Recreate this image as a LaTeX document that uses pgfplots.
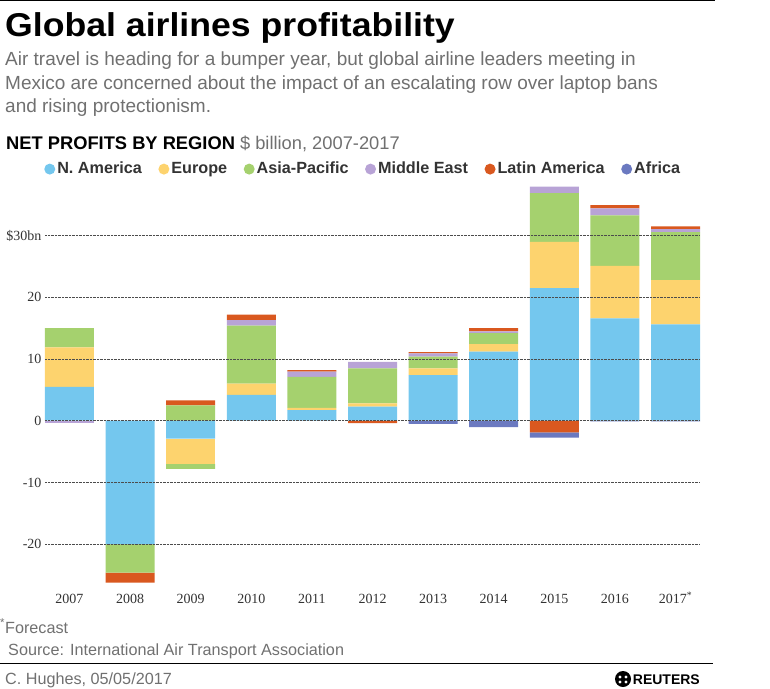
\documentclass[border=0pt]{standalone}
\usepackage{pgfplots}
\usepackage{pgfplotstable}
\pgfplotsset{compat=1.18}
\usepackage{fontspec}
\setmainfont{Liberation Sans}
\newfontfamily\numfont{Liberation Serif}
\newfontfamily\titlefont[FakeStretch=1.08]{Liberation Sans}

\definecolor{cNA}{HTML}{74C7EE}
\definecolor{cEU}{HTML}{FDD36E}
\definecolor{cAP}{HTML}{A5D16E}
\definecolor{cME}{HTML}{B8A3D6}
\definecolor{cLA}{HTML}{D9581F}
\definecolor{cAF}{HTML}{6B79C0}
\definecolor{greytxt}{HTML}{707070}
\definecolor{darktxt}{HTML}{333333}

\pgfplotstableread{
x NA EU AP ME LA AF
0 5.5 6.4 3.1 0 0 0
1 0 0 0 0 0 0
2 0 0 2.5 0 0.8 0
3 4.2 1.8 9.4 0.9 0.9 0
4 1.7 0.4 5.0 0.85 0.25 0
5 2.3 0.5 5.7 1.05 0 0
6 7.4 1.1 1.9 0.5 0.2 0
7 11.2 1.2 1.8 0.3 0.5 0
8 21.5 7.5 7.9 1.05 0 0
9 16.6 8.5 8.2 1.1 0.55 0
10 15.6 7.2 7.75 0.5 0.45 0
}\postable

\pgfplotstableread{
x NA EU AP ME LA AF
0 0 0 0 -0.4 0 0
1 -20 0 -4.6 0 -1.65 0
2 -2.9 -4.1 -0.8 0 0 0
3 0 0 0 0 0 0
4 0 0 0 0 0 0
5 0 0 0 0 -0.4 0
6 0 0 0 0 0 -0.5
7 0 0 0 0 0 -1.05
8 0 0 0 0 -1.9 -0.85
9 0 0 0 0 0 -0.1
10 0 0 0 0 0 -0.1
}\negtable

\pgfplotsset{
  basebars/.style={scale only axis, width=655pt, height=407.22pt,
    xmin=-0.404, xmax=10.404, ymin=-27, ymax=39,
    ybar stacked, bar width=49pt,
    axis line style={draw=none}, major tick length=0pt,
    at={(45pt,-587.3pt)}, anchor=south west, clip=false},
  circ legend/.style={legend image code/.code={\fill[##1] (0pt,0pt) circle (5.5pt);}},
}

\begin{document}
\begin{tikzpicture}
\path[use as bounding box] (0pt,0pt) rectangle (770pt,-688pt);
\draw[line width=1pt] (0pt,-0.5pt) -- (715pt,-0.5pt);
\node[anchor=base west, inner sep=0pt] at (5pt,-36pt)
  {\titlefont\bfseries\fontsize{33}{33}\selectfont Global airlines profitability};
\begin{scope}[every node/.style={anchor=base west, inner sep=0pt, text=greytxt, font=\fontsize{19}{19}\selectfont}]
\node at (5pt,-65pt) {Air travel is heading for a bumper year, but global airline leaders meeting in};
\node at (5pt,-89pt) {Mexico are concerned about the impact of an escalating row over laptop bans};
\node at (5pt,-112pt) {and rising protectionism.};
\end{scope}
\node[anchor=base west, inner sep=0pt, font=\fontsize{18.3}{18.3}\selectfont] at (6pt,-149pt)
  {\textbf{NET PROFITS BY REGION} \textcolor{greytxt}{\$ billion, 2007-2017}};

% negative parts
\begin{axis}[basebars, xtick=\empty, ytick=\empty]
\addplot[fill=cNA, draw=none] table[x=x, y=NA]{\negtable};
\addplot[fill=cEU, draw=none] table[x=x, y=EU]{\negtable};
\addplot[fill=cAP, draw=none] table[x=x, y=AP]{\negtable};
\addplot[fill=cME, draw=none] table[x=x, y=ME]{\negtable};
\addplot[fill=cLA, draw=none] table[x=x, y=LA]{\negtable};
\addplot[fill=cAF, draw=none] table[x=x, y=AF]{\negtable};
\end{axis}

% positive parts, grid, labels, legend
\begin{axis}[basebars, axis on top,
  ymajorgrids, grid style={densely dotted, line width=0.9pt, black!70},
  ytick={-20,-10,0,10,20,30},
  yticklabels={-20,-10,0,10,20,\$30bn},
  xtick={0,1,2,3,4,5,6,7,8,9,10},
  xticklabels={2007,2008,2009,2010,2011,2012,2013,2014,2015,2016,2017\textsuperscript{*}},
  tick label style={font=\numfont\fontsize{14}{14}\selectfont, text=darktxt},
  xticklabel style={yshift=-3pt, text height=9.5pt, text depth=0pt},
  legend columns=6,
  legend style={at={(axis description cs:-0.006,1.027)}, anchor=west, draw=none, fill=none,
    font=\bfseries\fontsize{16.2}{16.2}\selectfont, text=darktxt,
    nodes={text height=11.5pt, text depth=3.5pt},
    /tikz/every even column/.append style={column sep=14.5pt}},
]
\addplot[fill=cNA, draw=none, circ legend] table[x=x, y=NA]{\postable};
\addplot[fill=cEU, draw=none, circ legend] table[x=x, y=EU]{\postable};
\addplot[fill=cAP, draw=none, circ legend] table[x=x, y=AP]{\postable};
\addplot[fill=cME, draw=none, circ legend] table[x=x, y=ME]{\postable};
\addplot[fill=cLA, draw=none, circ legend] table[x=x, y=LA]{\postable};
\addplot[fill=cAF, draw=none, circ legend] table[x=x, y=AF]{\postable};
\legend{N. America, Europe, Asia-Pacific, Middle East, Latin America, Africa}
\end{axis}

\begin{scope}[every node/.style={anchor=base west, inner sep=0pt, text=greytxt, font=\fontsize{16.2}{16.2}\selectfont}]
\node at (0pt,-633pt) {\textsuperscript{*}Forecast};
\node at (8pt,-655pt) {Source: International Air Transport Association};
\node at (5pt,-684pt) {C. Hughes, 05/05/2017};
\end{scope}
\draw[line width=1pt] (0pt,-663pt) -- (713pt,-663pt);
\fill[black] (623pt,-679pt) circle (8pt);
\fill[white] (620pt,-677pt) circle (1.6pt) (626pt,-677pt) circle (1.6pt) (620pt,-682pt) circle (1.6pt) (626pt,-682pt) circle (1.6pt);
\node[anchor=base east, inner sep=0pt, font=\bfseries\fontsize{14}{14}\selectfont] at (700pt,-684pt) {REUTERS};
\end{tikzpicture}
\end{document}
